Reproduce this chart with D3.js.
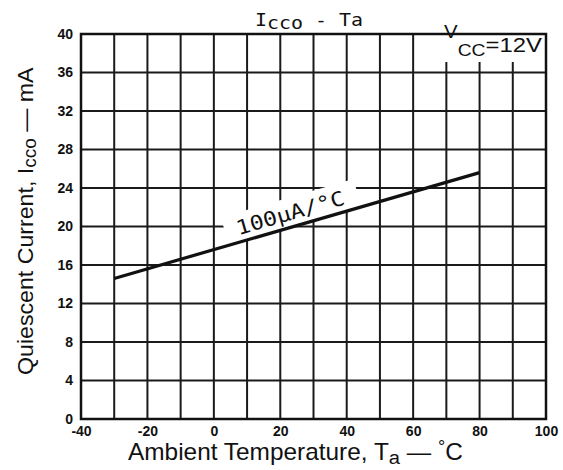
<!DOCTYPE html>
<html>
<head>
<meta charset="utf-8">
<script src="https://d3js.org/d3.v7.min.js"></script>
<style>
  body { margin: 0; background: #fff; }
  svg { display: block; }
  .tick text { font: bold 14px "Liberation Sans", Arial, sans-serif; fill: #111; }
  .grid line { stroke: #1a1a1a; stroke-width: 2; }
  .lbl { font-family: "Liberation Sans", Arial, sans-serif; fill: #111; }
  .mono { font-family: "DejaVu Sans Mono", "Liberation Mono", monospace; fill: #111; }
</style>
</head>
<body>
<svg id="chart" width="563" height="470"></svg>
<script>
// values
var temps = [-30, 80];              // Ta, degC
var icco = [14.6, 25.6];            // Icco, mA
var xGridValues = [-40, -30, -20, -10, 0, 10, 20, 30, 40, 50, 60, 70, 80, 90, 100];
var yGridValues = [0, 4, 8, 12, 16, 20, 24, 28, 32, 36, 40];
var xTickValues = [-40, -20, 0, 20, 40, 60, 80, 100];
var yTickValues = [0, 4, 8, 12, 16, 20, 24, 28, 32, 36, 40];

var svg = d3.select("#chart");
var pL = 81, pR = 546, pT = 34, pB = 419;

var x = d3.scaleLinear().domain([-40, 100]).range([pL, pR]);
var y = d3.scaleLinear().domain([0, 40]).range([pB, pT]);

// squeeze a text element horizontally to a given width
function fitWidth(sel, w) {
  var cur = sel.node().getBBox().width;
  var base = sel.attr("transform") || "";
  sel.attr("transform", base + " scale(" + (w / cur) + ",1)");
}

// grid
var grid = svg.append("g").attr("class", "grid");
grid.selectAll(".v").data(xGridValues).enter().append("line")
  .attr("x1", function(d){ return x(d); }).attr("x2", function(d){ return x(d); })
  .attr("y1", pT).attr("y2", pB);
grid.selectAll(".h").data(yGridValues).enter().append("line")
  .attr("x1", pL).attr("x2", pR)
  .attr("y1", function(d){ return y(d); }).attr("y2", function(d){ return y(d); });

// white patch for the Vcc note
svg.append("rect").attr("x", 419).attr("y", pT + 1).attr("width", pR - 419 - 1).attr("height", 27)
  .attr("fill", "#fff");

// slope label group, sitting on the line
var t0 = 8;
var i0 = icco[0] + (icco[1] - icco[0]) * (t0 - temps[0]) / (temps[1] - temps[0]);
var ang = Math.atan2(y(icco[1]) - y(icco[0]), x(temps[1]) - x(temps[0])) * 180 / Math.PI;
var lg = svg.append("g").attr("transform", "translate(" + x(t0) + "," + y(i0) + ") rotate(" + ang + ")");
lg.append("rect").attr("x", -12).attr("y", -29).attr("width", 138).attr("height", 28).attr("fill", "#fff");

// frame
svg.append("rect").attr("x", pL).attr("y", pT).attr("width", pR - pL).attr("height", pB - pT)
  .attr("fill", "none").attr("stroke", "#111").attr("stroke-width", 2.5);

// the line
var line = d3.line().x(function(d){ return x(d[0]); }).y(function(d){ return y(d[1]); });
svg.append("path").datum(d3.zip(temps, icco)).attr("d", line)
  .attr("fill", "none").attr("stroke", "#111").attr("stroke-width", 3.2);

var lt = lg.append("text").attr("class", "mono").attr("x", 0).attr("y", -7)
  .style("font-size", "20px").text("100\u00b5A/\u00b0C");
fitWidth(lt, 112);

// axes (labels only)
var xAxis = d3.axisBottom(x).tickValues(xTickValues).tickSize(0).tickPadding(7)
  .tickFormat(function(d){ return String(d); });
var gx = svg.append("g").attr("transform", "translate(0," + pB + ")").call(xAxis);
gx.select(".domain").remove();

var yAxis = d3.axisLeft(y).tickValues(yTickValues).tickSize(0).tickPadding(8)
  .tickFormat(function(d){ return String(d); });
var gy = svg.append("g").attr("transform", "translate(" + pL + ",0)").call(yAxis);
gy.select(".domain").remove();

// title
var title = svg.append("text").attr("class", "mono").attr("transform", "translate(255,26)")
  .style("font-size", "18px");
title.append("tspan").text("I");
title.append("tspan").attr("dy", 3).text("cco");
title.append("tspan").attr("dy", -3).text(" - Ta");
fitWidth(title, 108);

// Vcc = 12V
var vcc = svg.append("text").attr("class", "lbl").attr("transform", "translate(444,38)")
  .style("font-size", "18px");
vcc.append("tspan").text("V");
vcc.append("tspan").attr("dy", 18).style("font-size", "17px").text("CC");
vcc.append("tspan").attr("dy", -4).style("font-size", "21px").text("=12V");
fitWidth(vcc, 98);

// x label
var xl = svg.append("text").attr("class", "lbl").attr("transform", "translate(128,460)")
  .style("font-size", "23px");
xl.append("tspan").text("Ambient Temperature, T");
xl.append("tspan").attr("dy", 4).style("font-size", "19px").text("a");
xl.append("tspan").attr("dy", -4).text(" \u2014 ");
xl.append("tspan").attr("dy", -8).style("font-size", "17px").text("\u00b0");
xl.append("tspan").attr("dy", 8).text("C");
fitWidth(xl, 335);

// y label
var yl = svg.append("text").attr("class", "lbl").attr("transform", "translate(33,375) rotate(-90)")
  .style("font-size", "22px");
yl.append("tspan").text("Quiescent Current, I");
yl.append("tspan").attr("dy", 3).style("font-size", "18px").text("cco");
yl.append("tspan").attr("dy", -3).text(" \u2014 mA");
fitWidth(yl, 308);
</script>
</body>
</html>
